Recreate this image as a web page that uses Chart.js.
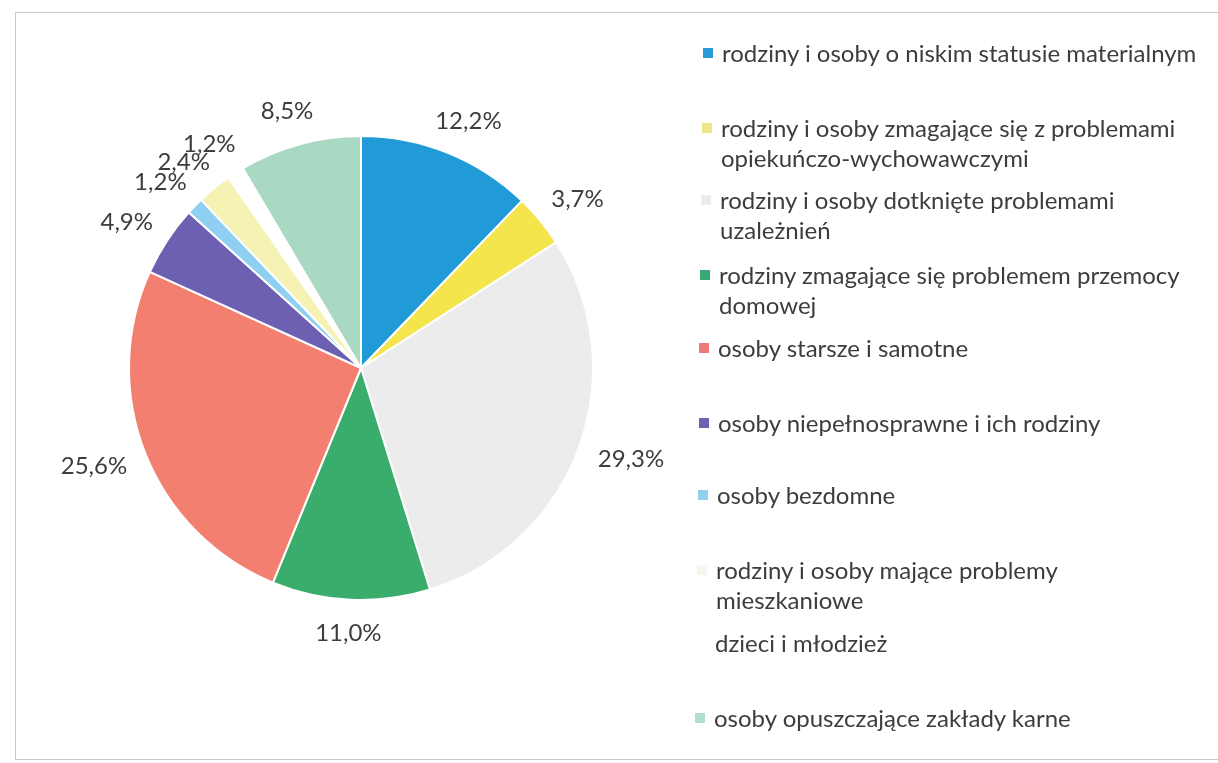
<!DOCTYPE html>
<html>
<head>
<meta charset="utf-8">
<script src="https://cdn.jsdelivr.net/npm/chart.js@4/dist/chart.umd.min.js"></script>
<style>
  html, body { margin: 0; padding: 0; background: #fff; overflow: hidden; }
  #wrap { position: relative; width: 1218px; height: 763px; overflow: hidden; font-family: Lato, "Noto Sans", sans-serif; }
  #frame { position: absolute; left: 15px; top: 12px; width: 1240px; height: 746px; border: 1px solid #cacaca; }
  #pie { position: absolute; left: 0; top: 0; }
  .item { position: absolute; font-size: 24px; line-height: 30px; color: #3d3d3d; white-space: pre; }
  .item i { position: absolute; left: -19px; top: 10px; width: 10px; height: 10px; }
</style>
</head>
<body>
<div id="wrap">
  <div id="frame"></div>
  <canvas id="pie" width="1218" height="763"></canvas>
  <div id="legend"></div>
</div>
<script>
// categories (legend text, line breaks as in the original)
const categories = [
  "rodziny i osoby o niskim statusie materialnym",
  "rodziny i osoby zmagające się z problemami\nopiekuńczo-wychowawczymi",
  "rodziny i osoby dotknięte problemami\nuzależnień",
  "rodziny zmagające się problemem przemocy\ndomowej",
  "osoby starsze i samotne",
  "osoby niepełnosprawne i ich rodziny",
  "osoby bezdomne",
  "rodziny i osoby mające problemy\nmieszkaniowe",
  "dzieci i młodzież",
  "osoby opuszczające zakłady karne"
];
// share of each group, %
const shares = [12.2, 3.7, 29.3, 11.0, 25.6, 4.9, 1.2, 2.4, 1.2, 8.5];

const sliceColors = ["#219ad8", "#f4e54c", "#ececec", "#3aad6d", "#f27f6f",
                     "#6d5fb1", "#8fcff1", "#f6f2b4", "#ffffff", "#a9d9c2"];
const markerColors = ["#2a9bd8", "#efe78a", "#ececf0", "#3aa872", "#f07b7b",
                      "#6a62ae", "#92d0f0", "#f4f7ee", null, "#b2ded2"];
// legend rows: centre of the first text line
const legendRowY = [53, 128, 200, 275, 348, 423, 495, 570, 643, 718];

const valueLabels = shares.map(v => v.toFixed(1).replace('.', ',') + '%');

// legend, drawn as html
const legend = document.getElementById('legend');
categories.forEach((name, i) => {
  const el = document.createElement('div');
  el.className = 'item';
  const y = legendRowY[i];
  el.style.top = (y - 15) + 'px';
  el.style.left = Math.round(722 - (y - 53) * 8 / 665) + 'px';
  el.textContent = name;
  if (markerColors[i]) {
    const m = document.createElement('i');
    m.style.background = markerColors[i];
    el.appendChild(m);
  }
  legend.appendChild(el);
});

// percentage labels outside the pie
const outsideLabels = {
  id: 'outsideLabels',
  afterDatasetsDraw(chart) {
    const ctx = chart.ctx;
    const meta = chart.getDatasetMeta(0);
    ctx.save();
    ctx.font = '24px Lato, "Noto Sans", sans-serif';
    ctx.fillStyle = '#3d3d3d';
    ctx.textAlign = 'center';
    ctx.textBaseline = 'middle';
    meta.data.forEach((arc, i) => {
      const p = arc.getProps(['x', 'y', 'startAngle', 'endAngle', 'outerRadius']);
      const mid = (p.startAngle + p.endAngle) / 2;
      const ux = Math.cos(mid), uy = Math.sin(mid);
      const txt = valueLabels[i];
      const w = ctx.measureText(txt).width;
      const d = p.outerRadius + 22;
      ctx.fillText(txt, p.x + ux * d + ux * w / 2, p.y + uy * d + uy * 12);
    });
    ctx.restore();
  }
};

new Chart(document.getElementById('pie'), {
  type: 'pie',
  data: {
    labels: categories,
    datasets: [{
      data: shares,
      backgroundColor: sliceColors,
      borderColor: '#ffffff',
      borderWidth: 2,
      offset: shares.map((v, i) => i === 8 ? 10 : 0)
    }]
  },
  options: {
    responsive: false,
    animation: false,
    layout: { padding: { left: 122, right: 618, top: 130, bottom: 157 } },
    plugins: {
      legend: { display: false },
      tooltip: { enabled: false }
    }
  },
  plugins: [outsideLabels]
});
</script>
</body>
</html>
